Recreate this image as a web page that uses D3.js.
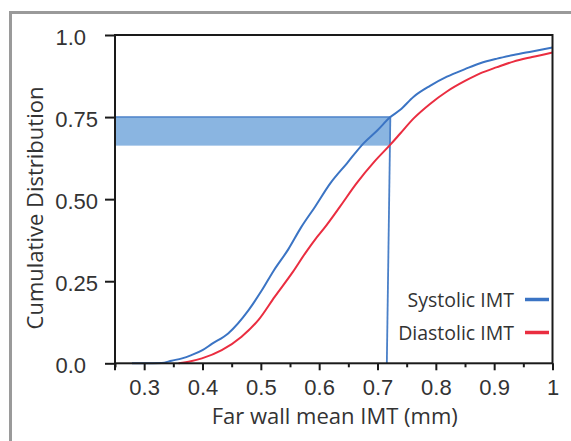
<!DOCTYPE html>
<html lang="en">
<head>
<meta charset="UTF-8">
<title>Cumulative distribution of far wall IMT</title>
<script src="https://d3js.org/d3.v7.min.js"></script>
<style>
  body { margin: 0; background: #fff; }
  svg { display: block; font-family: "Open Sans", sans-serif; }
</style>
</head>
<body>
<script>
// values
var systolicX = [0.279, 0.30, 0.33, 0.347, 0.365, 0.381, 0.40, 0.416, 0.444, 0.479, 0.502, 0.522, 0.547, 0.569, 0.593, 0.619, 0.648, 0.676, 0.700, 0.722, 0.739, 0.762, 0.79, 0.819, 0.85, 0.876, 0.905, 0.933, 0.965, 1.0];
var systolicY = [0, 0, 0.001, 0.008, 0.015, 0.025, 0.04, 0.059, 0.091, 0.162, 0.223, 0.282, 0.347, 0.414, 0.477, 0.548, 0.61, 0.670, 0.71, 0.750, 0.772, 0.812, 0.845, 0.873, 0.896, 0.914, 0.928, 0.939, 0.95, 0.962];
var diastolicX = [0.359, 0.38, 0.399, 0.433, 0.467, 0.496, 0.524, 0.554, 0.576, 0.593, 0.608, 0.636, 0.664, 0.695, 0.722, 0.739, 0.762, 0.79, 0.819, 0.85, 0.876, 0.905, 0.933, 0.965, 1.0];
var diastolicY = [0, 0.006, 0.015, 0.04, 0.081, 0.132, 0.203, 0.276, 0.335, 0.377, 0.410, 0.478, 0.548, 0.615, 0.666, 0.70, 0.746, 0.79, 0.828, 0.86, 0.883, 0.902, 0.919, 0.933, 0.947];
var xMajorTicks = [0.3, 0.4, 0.5, 0.6, 0.7, 0.8, 0.9, 1.0];
var xMinorTicks = [0.25, 0.35, 0.45, 0.55, 0.65, 0.75, 0.85, 0.95];
var xTickLabels = ["0.3", "0.4", "0.5", "0.6", "0.7", "0.8", "0.9", "1"];
var yTicks = [0, 0.25, 0.5, 0.75, 1.0];
var yTickLabels = ["0.0", "0.25", "0.50", "0.75", "1.0"];
var bandY = [0.663, 0.75];      // shaded band between the two curves
var markerX = [0.716, 0.722];   // vertical marker line, bottom and top
var seriesNames = ["Systolic IMT", "Diastolic IMT"];
var seriesColors = ["#3b74c4", "#ea2d40"];

var W = 571, H = 441;
var svg = d3.select("body").append("svg")
  .attr("width", W)
  .attr("height", H);

var x = d3.scaleLinear().domain([0.25, 1]).range([115, 552.5]);
var y = d3.scaleLinear().domain([0, 1]).range([363.3, 35]);

// grey outer frame
svg.append("path")
  .attr("d", "M10.5,441 V12.5 H571")
  .style("fill", "none")
  .style("stroke", "#9a9a9a")
  .style("stroke-width", 3);

// shaded band + marker
svg.append("rect")
  .attr("x", x(0.25))
  .attr("y", y(bandY[1]))
  .attr("width", x(markerX[1]) - x(0.25))
  .attr("height", y(bandY[0]) - y(bandY[1]))
  .style("fill", "#8ab5e1");
svg.append("line")
  .attr("x1", x(0.25)).attr("x2", x(markerX[1]))
  .attr("y1", y(bandY[1])).attr("y2", y(bandY[1]))
  .style("stroke", "#4a80c8").style("stroke-width", 1.5);
svg.append("line")
  .attr("x1", x(markerX[0])).attr("y1", y(0))
  .attr("x2", x(markerX[1])).attr("y2", y(bandY[1]))
  .style("stroke", "#4a80c8").style("stroke-width", 1.8);

// curves
var line = d3.line()
  .x(function(d) { return x(d[0]); })
  .y(function(d) { return y(d[1]); })
  .curve(d3.curveMonotoneX);

var series = [d3.zip(systolicX, systolicY), d3.zip(diastolicX, diastolicY)];
svg.selectAll("path.curve")
  .data(series)
  .enter()
  .append("path")
  .attr("class", "curve")
  .attr("d", line)
  .style("fill", "none")
  .style("stroke", function(d, i) { return seriesColors[i]; })
  .style("stroke-width", 2);

// axes
var axisColor = "#1a1a1a";
var xAxis = svg.append("g")
  .attr("transform", "translate(0," + y(0) + ")")
  .call(d3.axisBottom(x).tickValues(xMajorTicks).tickSize(7)
    .tickFormat(function(d, i) { return xTickLabels[i]; }));
xAxis.append("g")
  .call(d3.axisBottom(x).tickValues(xMinorTicks).tickSize(4).tickFormat(""));
xAxis.selectAll(".domain").remove();
xAxis.selectAll("line").style("stroke", axisColor).style("stroke-width", 2);
xAxis.selectAll("text")
  .attr("y", 16.5)
  .style("font-size", "22px")
  .style("fill", "#333");

var yAxis = svg.append("g")
  .attr("transform", "translate(" + x(0.25) + ",0)")
  .call(d3.axisLeft(y).tickValues(yTicks).tickSize(10)
    .tickFormat(function(d, i) { return yTickLabels[i]; }));
yAxis.selectAll(".domain").remove();
yAxis.selectAll("line").style("stroke", axisColor).style("stroke-width", 2);
yAxis.selectAll("text")
  .attr("x", function(d, i) { return yTickLabels[i].length === 3 ? -29 : -17; })
  .attr("dy", "0.44em")
  .style("font-size", "22px")
  .style("fill", "#333");

// frame box (left, bottom, top, right)
svg.append("rect")
  .attr("x", x(0.25))
  .attr("y", y(1))
  .attr("width", x(1) - x(0.25))
  .attr("height", y(0) - y(1))
  .style("fill", "none")
  .style("stroke", axisColor)
  .style("stroke-width", 2);
svg.append("line")
  .attr("x1", x(0.25)).attr("x2", x(0.25))
  .attr("y1", y(0)).attr("y2", y(0) + 7)
  .style("stroke", axisColor).style("stroke-width", 2);

// axis titles
svg.append("text")
  .attr("x", (x(0.25) + x(1)) / 2 + 1)
  .attr("y", 424)
  .attr("text-anchor", "middle")
  .style("font-size", "22px")
  .style("fill", "#333")
  .text("Far wall mean IMT (mm)");

svg.append("text")
  .attr("transform", "translate(43,208) rotate(-90)")
  .attr("text-anchor", "middle")
  .style("font-size", "22px")
  .style("fill", "#333")
  .text("Cumulative Distribution");

// legend
var legendY = [299.5, 332.5];
var legend = svg.selectAll("g.legend")
  .data(seriesNames)
  .enter()
  .append("g")
  .attr("class", "legend")
  .attr("transform", function(d, i) { return "translate(0," + legendY[i] + ")"; });
legend.append("text")
  .attr("x", 514)
  .attr("dy", "0.36em")
  .attr("text-anchor", "end")
  .style("font-size", "19.5px")
  .style("fill", "#333")
  .text(function(d) { return d; });
legend.append("line")
  .attr("x1", 525).attr("x2", 549)
  .style("stroke", function(d, i) { return seriesColors[i]; })
  .style("stroke-width", 3.5);
</script>
</body>
</html>
